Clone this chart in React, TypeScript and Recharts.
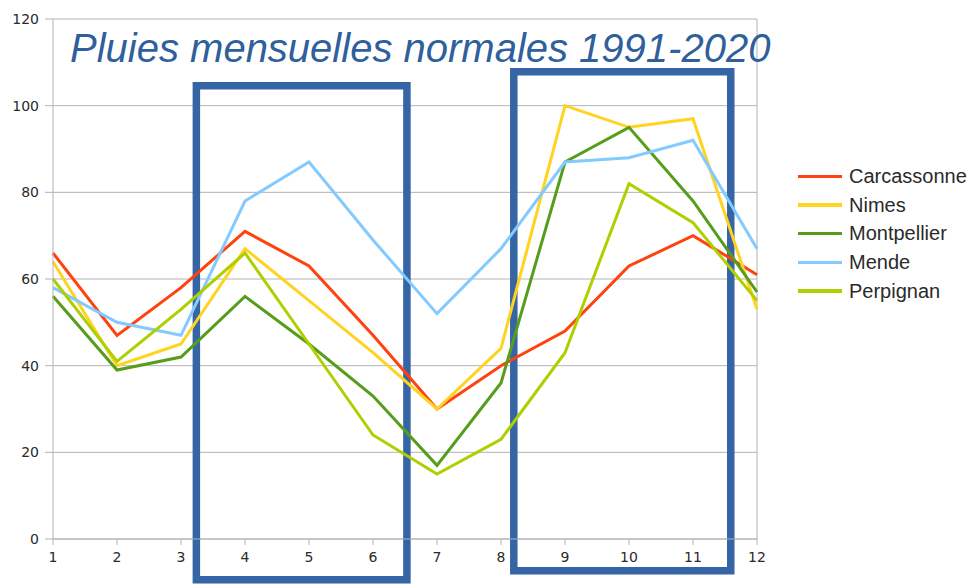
import React from 'react';
import { LineChart, Line, XAxis, YAxis, CartesianGrid, ReferenceArea, ReferenceLine } from 'recharts';

const months = [1, 2, 3, 4, 5, 6, 7, 8, 9, 10, 11, 12];
const carcassonne = [66, 47, 58, 71, 63, 47, 30, 40, 48, 63, 70, 61];
const nimes = [64, 40, 45, 67, 55, 43, 30, 44, 100, 95, 97, 53];
const montpellier = [56, 39, 42, 56, 45, 33, 17, 36, 87, 95, 78, 57];
const mende = [58, 50, 47, 78, 87, 69, 52, 67, 87, 88, 92, 67];
const perpignan = [60, 41, 53, 66, 45, 24, 15, 23, 43, 82, 73, 55];
const yTicks = [0, 20, 40, 60, 80, 100, 120];

const seriesNames = ['Carcassonne', 'Nimes', 'Montpellier', 'Mende', 'Perpignan'];
const seriesValues = [carcassonne, nimes, montpellier, mende, perpignan];
const seriesColors = ['#ff420e', '#ffd320', '#579d1c', '#83caff', '#aecf00'];

// highlight boxes (annotation), in data units
const boxX1 = [3.24, 8.2];
const boxX2 = [6.53, 11.59];
const boxY1 = [-9.4, -7.3];
const boxY2 = [104.6, 107.8];

const title = 'Pluies mensuelles normales 1991-2020';

const data = months.map((m, i) => {
  const row: Record<string, number> = { month: m };
  seriesNames.forEach((n, j) => {
    row[n] = seriesValues[j][i];
  });
  return row;
});

const LegendBox = () => (
  <div
    style={{
      position: 'absolute',
      left: 798,
      top: 162,
      width: 175,
      fontFamily: '"Liberation Sans", Arial, sans-serif',
      fontSize: 20,
      color: '#2a2a2a',
    }}
  >
    {seriesNames.map((n, i) => (
      <div key={n} style={{ display: 'flex', alignItems: 'center', height: 28.7 }}>
        <div style={{ width: 44, height: 3.5, background: seriesColors[i], marginRight: 7 }} />
        <span>{n}</span>
      </div>
    ))}
  </div>
);

export default function App() {
  return (
    <div style={{ position: 'absolute', left: 0, top: 0, width: 973, height: 585, background: '#fff' }}>
      <LineChart
        width={973}
        height={585}
        data={data}
        margin={{ top: 19, right: 216, bottom: 16, left: 8 }}
      >
        <CartesianGrid vertical={false} stroke="#b3b3b3" strokeWidth={1} />
        <XAxis
          dataKey="month"
          type="number"
          domain={[1, 12]}
          ticks={months}
          height={30}
          axisLine={{ stroke: '#b3b3b3' }}
          tickLine={{ stroke: '#b3b3b3' }}
          tickSize={6}
          tickMargin={7}
          tick={{ fill: '#2a2a2a', fontSize: 14, fontFamily: '"DejaVu Sans", sans-serif' }}
        />
        <YAxis
          type="number"
          domain={[0, 120]}
          ticks={yTicks}
          width={45}
          axisLine={{ stroke: '#b3b3b3' }}
          tickLine={{ stroke: '#b3b3b3' }}
          tickSize={8}
          tickMargin={6}
          tick={{ fill: '#2a2a2a', fontSize: 14, fontFamily: '"DejaVu Sans", sans-serif' }}
        />
        <ReferenceLine x={12} stroke="#b3b3b3" strokeWidth={1} />
        {seriesNames.map((n, i) => (
          <Line
            key={n}
            type="linear"
            dataKey={n}
            stroke={seriesColors[i]}
            strokeWidth={3}
            dot={false}
            isAnimationActive={false}
          />
        ))}
        {boxX1.map((x1, i) => (
          <ReferenceArea
            key={i}
            x1={x1}
            x2={boxX2[i]}
            y1={boxY1[i]}
            y2={boxY2[i]}
            ifOverflow="visible"
            fill="none"
            fillOpacity={0}
            stroke="#3565a5"
            strokeWidth={7.5}
          />
        ))}
      </LineChart>
      <LegendBox />
      <svg width={973} height={585} style={{ position: 'absolute', left: 0, top: 0, pointerEvents: 'none' }}>
        <text
          x={70}
          y={62}
          fill="#2f5f9c"
          fontSize={40}
          fontStyle="italic"
          fontFamily='"Liberation Sans", Arial, sans-serif'
        >
          {title}
        </text>
      </svg>
    </div>
  );
}
